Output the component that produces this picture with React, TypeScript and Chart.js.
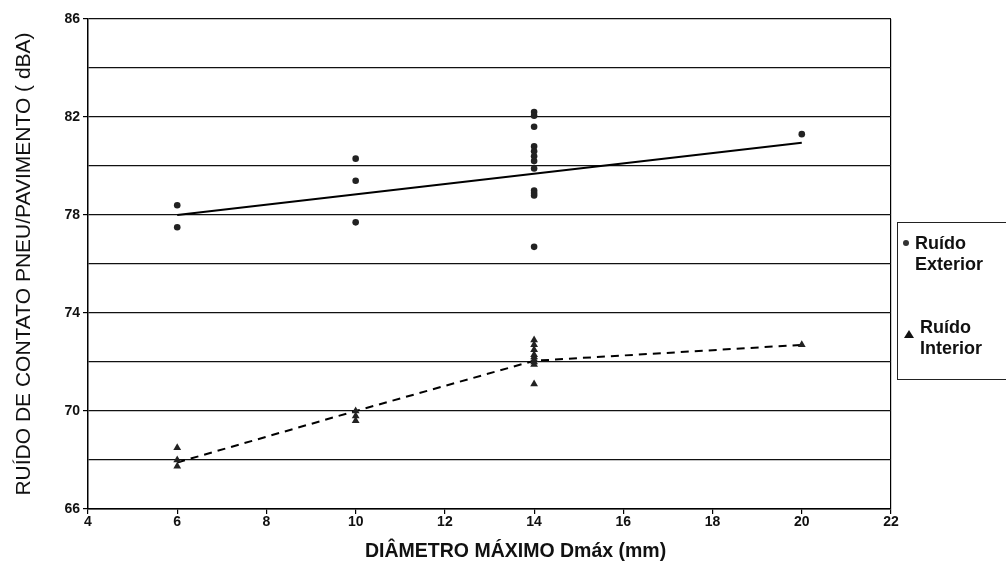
import React, { useEffect, useRef } from "react";
import { Chart, registerables } from "chart.js";

Chart.register(...registerables);

// Ruído Exterior (circles)
const exteriorX = [6, 6, 10, 10, 10, 14, 14, 14, 14, 14, 14, 14, 14, 14, 14, 14, 14, 20];
const exteriorY = [78.4, 77.5, 80.3, 79.4, 77.7, 82.2, 82.05, 81.6, 80.8, 80.6, 80.4, 80.2, 79.9, 79.0, 78.9, 78.8, 76.7, 81.3];

// Ruído Interior (triangles)
const interiorX = [6, 6, 6, 10, 10, 10, 14, 14, 14, 14, 14, 14, 14, 14, 14, 20];
const interiorY = [68.5, 68.0, 67.75, 70.0, 69.8, 69.6, 72.9, 72.7, 72.5, 72.3, 72.2, 72.1, 72.0, 71.9, 71.1, 72.7];

// Trend lines
const exteriorTrendX = [6, 20];
const exteriorTrendY = [78.0, 80.95];
const interiorTrendX = [6, 10, 14, 20];
const interiorTrendY = [67.9, 70.0, 72.05, 72.7];

const yLabeled = [66, 70, 74, 78, 82, 86];

const toPts = (xs: number[], ys: number[]) => xs.map((x, i) => ({ x, y: ys[i] }));

const FONT = "'Liberation Sans', Arial, sans-serif";

export default function App() {
  const ref = useRef<HTMLCanvasElement | null>(null);

  useEffect(() => {
    if (!ref.current) return;
    const chart = new Chart(ref.current, {
      type: "scatter",
      data: {
        datasets: [
          {
            label: "Ruído Exterior",
            data: toPts(exteriorX, exteriorY),
            pointStyle: "circle",
            pointRadius: 3.3,
            backgroundColor: "#222",
            borderColor: "#222",
            borderWidth: 0,
            showLine: false,
          },
          {
            label: "Ruído Interior",
            data: toPts(interiorX, interiorY),
            pointStyle: "triangle",
            pointRadius: 4.5,
            backgroundColor: "#222",
            borderColor: "#222",
            borderWidth: 0,
            showLine: false,
          },
          {
            label: "trend ext",
            data: toPts(exteriorTrendX, exteriorTrendY),
            showLine: true,
            pointRadius: 0,
            borderColor: "#000",
            borderWidth: 2,
            fill: false,
          },
          {
            label: "trend int",
            data: toPts(interiorTrendX, interiorTrendY),
            showLine: true,
            pointRadius: 0,
            borderColor: "#000",
            borderWidth: 2,
            borderDash: [8, 6],
            fill: false,
          },
        ],
      },
      options: {
        animation: false,
        responsive: false,
        maintainAspectRatio: false,
        layout: { padding: { left: 0, top: 19, right: 9, bottom: 0 } },
        plugins: {
          legend: { display: false },
          tooltip: { enabled: false },
        },
        scales: {
          x: {
            type: "linear",
            min: 4,
            max: 22,
            ticks: {
              stepSize: 2,
              color: "#111",
              font: { family: FONT, size: 14, weight: "bold" },
              padding: 0,
            },
            grid: {
              drawOnChartArea: true,
              color: (ctx: any) => (ctx.tick && ctx.tick.value === 22 ? "#000" : "rgba(0,0,0,0)"),
              tickColor: "#000",
              tickLength: 5,
              lineWidth: 1.2,
            },
            border: { color: "#000", width: 1.5 },
            title: { display: false },
            afterFit: (scale: any) => {
              scale.height = 62;
            },
          },
          y: {
            type: "linear",
            min: 66,
            max: 86,
            ticks: {
              stepSize: 2,
              color: "#111",
              font: { family: FONT, size: 14, weight: "bold" },
              padding: 3,
              callback: (v: any) => (yLabeled.includes(Number(v)) ? String(v) : ""),
            },
            grid: {
              color: "#111",
              lineWidth: 1.2,
              tickLength: 5,
              tickColor: (ctx: any) =>
                ctx.tick && yLabeled.includes(ctx.tick.value) ? "#000" : "rgba(0,0,0,0)",
            },
            border: { color: "#000", width: 1.5 },
            title: {
              display: true,
              text: "RUÍDO DE CONTATO PNEU/PAVIMENTO ( dBA)",
              color: "#111",
              font: { family: FONT, size: 21 },
              padding: { top: 12, bottom: 6 },
            },
            afterFit: (scale: any) => {
              scale.width = 88;
            },
          },
        },
      },
    });
    return () => chart.destroy();
  }, []);

  return (
    <div style={{ position: "absolute", left: 0, top: 0, width: 1006, height: 571, background: "#fff", overflow: "hidden" }}>
      <canvas ref={ref} width={900} height={571} style={{ position: "absolute", left: 0, top: 0 }} />
      <div
        style={{
          position: "absolute",
          left: 365,
          top: 539,
          whiteSpace: "nowrap",
          fontFamily: FONT,
          fontWeight: "bold",
          fontSize: 19.5,
          lineHeight: "22px",
          color: "#111",
        }}
      >
        DIÂMETRO MÁXIMO Dmáx (mm)
      </div>
      <div
        style={{
          position: "absolute",
          left: 897,
          top: 222,
          width: 120,
          height: 158,
          border: "1.5px solid #222",
          boxSizing: "border-box",
          fontFamily: FONT,
          fontWeight: "bold",
          fontSize: 18,
          color: "#111",
          lineHeight: "21px",
        }}
      >
        <div style={{ position: "absolute", left: 5, top: 17, width: 6, height: 6, borderRadius: 3, background: "#333" }} />
        <div style={{ position: "absolute", left: 17, top: 10 }}>
          Ruído
          <br />
          Exterior
        </div>
        <div
          style={{
            position: "absolute",
            left: 6,
            top: 107,
            width: 0,
            height: 0,
            borderLeft: "5px solid transparent",
            borderRight: "5px solid transparent",
            borderBottom: "8px solid #111",
          }}
        />
        <div style={{ position: "absolute", left: 22, top: 94 }}>
          Ruído
          <br />
          Interior
        </div>
      </div>
    </div>
  );
}
